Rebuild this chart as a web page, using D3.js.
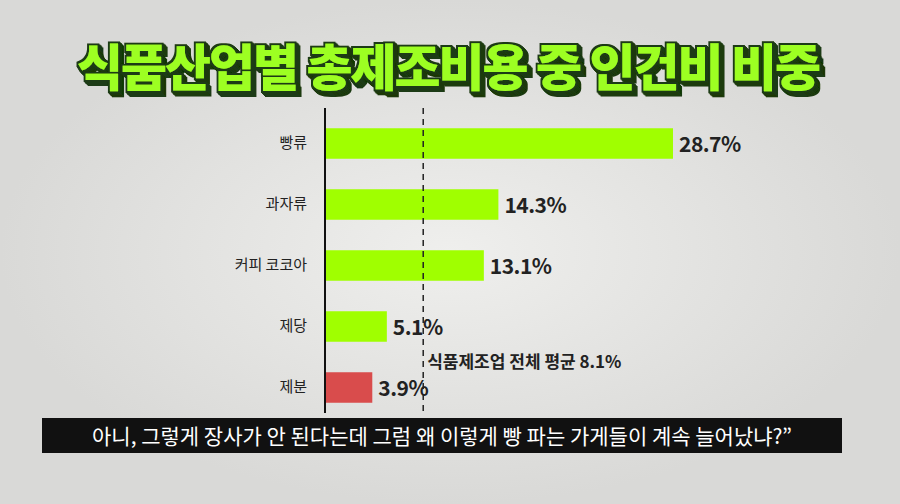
<!DOCTYPE html>
<html><head><meta charset="utf-8">
<script src="https://cdn.jsdelivr.net/npm/d3@7"></script>
<style>
body{margin:0;background:#e6e6e4;}
svg{display:block;}
</style></head>
<body>
<svg id="chart" width="900" height="504"></svg>
<script>
const categories = ["빵류", "과자류", "커피 코코아", "제당", "제분"];
const values = [28.7, 14.3, 13.1, 5.1, 3.9];
const barColors = ["#a0ff00", "#a0ff00", "#a0ff00", "#a0ff00", "#d94c4c"];
const averageValue = 8.1;
const averageLabel = "식품제조업 전체 평균 8.1%";
const titleText = "식품산업별 총제조비용 중 인건비 비중";
const subtitleText = "아니, 그렇게 장사가 안 된다는데 그럼 왜 이렇게 빵 파는 가게들이 계속 늘어났냐?\u201D";

const svg = d3.select("#chart");
const font = "'Noto Sans CJK KR', 'Noto Sans', sans-serif";

const defs = svg.append("defs");
const grad = defs.append("radialGradient").attr("id", "bg");
grad.append("stop").attr("offset", "0%").attr("stop-color", "#efefed");
grad.append("stop").attr("offset", "100%").attr("stop-color", "#d9d9d7");
svg.append("rect").attr("width", 900).attr("height", 504).attr("fill", "url(#bg)");

// stacked drop shadow for the title, as one text element
const f = defs.append("filter").attr("id", "shadow").attr("x", "-5%").attr("y", "-20%")
    .attr("width", "110%").attr("height", "150%");
f.append("feMorphology").attr("in", "SourceAlpha").attr("operator", "dilate").attr("radius", 1.5).attr("result", "d");
f.append("feFlood").attr("flood-color", "#1f3a12");
f.append("feComposite").attr("in2", "d").attr("operator", "in").attr("result", "o");
const merge1 = [];
[1, 2, 3, 4, 5].forEach(i => {
    f.append("feOffset").attr("in", "o").attr("dx", i * 0.8).attr("dy", i * 0.8).attr("result", "s" + i);
});
const m = f.append("feMerge");
[5, 4, 3, 2, 1].forEach(i => m.append("feMergeNode").attr("in", "s" + i));
m.append("feMergeNode").attr("in", "o");
m.append("feMergeNode").attr("in", "SourceGraphic");

svg.append("text").attr("x", 448).attr("y", 86).attr("text-anchor", "middle")
    .attr("font-family", font).attr("font-weight", 900).attr("font-size", 50)
    .attr("letter-spacing", -2)
    .attr("fill", "#9dff22").attr("filter", "url(#shadow)")
    .text(titleText);

const x = d3.scaleLinear().domain([0, 28.7]).range([325, 673]);
const y = d3.scaleBand().domain(categories).range([113, 418]).paddingInner(0.5).paddingOuter(0.25);

svg.selectAll("rect.bar").data(values).enter().append("rect")
    .attr("class", "bar")
    .attr("x", x(0))
    .attr("y", (d, i) => y(categories[i]))
    .attr("width", d => x(d) - x(0))
    .attr("height", y.bandwidth())
    .attr("fill", (d, i) => barColors[i]);

svg.selectAll("text.val").data(values).enter().append("text")
    .attr("x", d => x(d) + 6)
    .attr("y", (d, i) => y(categories[i]) + y.bandwidth() / 2 + 8)
    .attr("font-family", font).attr("font-weight", 700).attr("font-size", 21)
    .attr("letter-spacing", -0.5)
    .attr("fill", "#222").text(d => d.toFixed(1) + "%");

const yAxis = svg.append("g").attr("transform", `translate(${x(0)},0)`)
    .call(d3.axisLeft(y).tickSize(0).tickPadding(18));
yAxis.select(".domain").attr("stroke", "#111").attr("stroke-width", 2)
    .attr("d", "M0,108V413");
yAxis.selectAll("text").attr("font-family", font).attr("font-size", 15).attr("fill", "#222");

svg.append("line").attr("x1", x(averageValue)).attr("x2", x(averageValue))
    .attr("y1", 108).attr("y2", 413).attr("stroke", "#222").attr("stroke-width", 1.5)
    .attr("stroke-dasharray", "6,5");
svg.append("text").attr("x", x(averageValue) + 4).attr("y", 368)
    .attr("font-family", font).attr("font-weight", 700).attr("font-size", 17)
    .attr("fill", "#222").text(averageLabel);

svg.append("rect").attr("x", 42).attr("y", 418).attr("width", 800).attr("height", 35).attr("fill", "#111");
svg.append("text").attr("x", 442).attr("y", 444).attr("text-anchor", "middle")
    .attr("font-family", font).attr("font-size", 21).attr("fill", "#fff").text(subtitleText);
</script>
</body></html>
